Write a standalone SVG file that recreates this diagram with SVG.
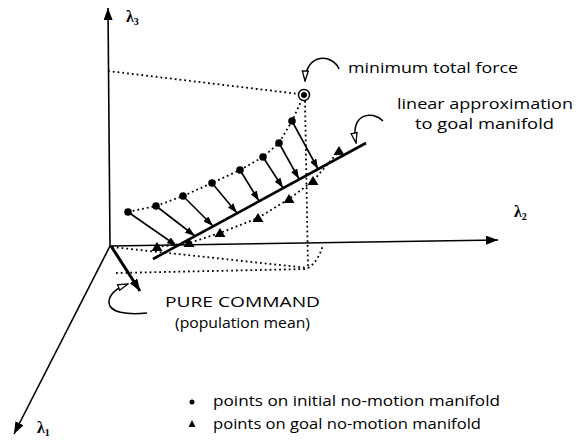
<svg xmlns="http://www.w3.org/2000/svg" width="584" height="441" viewBox="0 0 584 441">
<style>
.ax{stroke:#000;stroke-width:1.6;fill:none}
.dot{stroke:#000;stroke-width:1.8;stroke-dasharray:1.8 3;fill:none}
.arr{stroke:#000;stroke-width:1.6;fill:none}
.ptr{stroke:#000;stroke-width:1.5;fill:none}
.lbl{font-family:"Open Sans","Noto Sans",sans-serif;font-size:15px;fill:#000}
.lam{font-family:"Liberation Serif",serif;font-size:16px;font-weight:bold;fill:#000}
.sub{font-size:10px}
</style>
<defs>
<marker id="ah" viewBox="0 0 10 7" refX="10" refY="3.5" markerWidth="10" markerHeight="7" markerUnits="userSpaceOnUse" orient="auto"><path d="M0,0 L10,3.5 L0,7 z" fill="#000"/></marker>
<marker id="ahb" viewBox="0 0 12 9" refX="12" refY="4.5" markerWidth="12" markerHeight="9" markerUnits="userSpaceOnUse" orient="auto"><path d="M0,0 L12,4.5 L0,9 z" fill="#000"/></marker>
<marker id="aho" viewBox="0 0 12 8" refX="11" refY="4" markerWidth="12" markerHeight="8" markerUnits="userSpaceOnUse" orient="auto"><path d="M1,1 L11,4 L1,7 z" fill="#fff" stroke="#000" stroke-width="1.3"/></marker>
<path id="tri" d="M0,-5 L5.5,4 L-5.5,4 z" fill="#000"/>
</defs>

<g id="axes">
<line class="ax" x1="110" y1="246" x2="108" y2="8" marker-end="url(#ahb)"/>
<line class="ax" x1="110" y1="246" x2="498" y2="240" marker-end="url(#ahb)"/>
<line class="ax" x1="110" y1="246" x2="14" y2="434" marker-end="url(#ahb)"/>
<text class="lam" x="126" y="22">λ<tspan class="sub" dy="3">3</tspan></text>
<text class="lam" x="514" y="217">λ<tspan class="sub" dy="3">2</tspan></text>
<text class="lam" x="37" y="433">λ<tspan class="sub" dy="3">1</tspan></text>
</g>

<g id="projection">
<line class="dot" x1="108" y1="71" x2="299" y2="94"/>
<line class="dot" x1="305" y1="101" x2="308" y2="268"/>
<line class="dot" x1="112" y1="247" x2="308" y2="268"/>
<line class="dot" x1="116" y1="273" x2="308" y2="269"/>
<path class="dot" d="M308,268 Q318,262 323,245"/>
</g>

<g id="initial-manifold">
<polyline class="dot" points="128,212 156,206 183,196 212,183 240,170 263,157 279,143 292,121 304,95"/>
<circle cx="128" cy="212" r="3.8"/>
<circle cx="156" cy="206" r="3.8"/>
<circle cx="183" cy="196" r="3.8"/>
<circle cx="212" cy="183" r="3.8"/>
<circle cx="240" cy="170" r="3.8"/>
<circle cx="263" cy="157" r="3.8"/>
<circle cx="279" cy="143" r="3.8"/>
<circle cx="292" cy="121" r="3.8"/>
</g>

<g id="minimum">
<circle cx="304" cy="95" r="5.5" fill="#fff" stroke="#000" stroke-width="1.4"/>
<circle cx="304" cy="95" r="3" fill="#000"/>
</g>

<g id="goal-manifold">
<polyline class="dot" points="157,247 189,243 220,233 258,218 289,199 313,181 339,151"/>
<use href="#tri" x="157" y="247"/>
<use href="#tri" x="189" y="243"/>
<use href="#tri" x="220" y="233"/>
<use href="#tri" x="258" y="218"/>
<use href="#tri" x="289" y="199"/>
<use href="#tri" x="313" y="181"/>
<use href="#tri" x="339" y="151"/>
</g>

<g id="linear-approx">
<line x1="153" y1="259" x2="366" y2="143" stroke="#000" stroke-width="2.6"/>
</g>

<g id="connectors">
<line class="arr" x1="128" y1="212" x2="177" y2="246" marker-end="url(#ah)"/>
<line class="arr" x1="156" y1="206" x2="195" y2="236" marker-end="url(#ah)"/>
<line class="arr" x1="183" y1="196" x2="213" y2="226" marker-end="url(#ah)"/>
<line class="arr" x1="212" y1="183" x2="237" y2="213" marker-end="url(#ah)"/>
<line class="arr" x1="240" y1="170" x2="259" y2="201" marker-end="url(#ah)"/>
<line class="arr" x1="263" y1="157" x2="283" y2="188" marker-end="url(#ah)"/>
<line class="arr" x1="279" y1="143" x2="299" y2="179" marker-end="url(#ah)"/>
<line class="arr" x1="292" y1="121" x2="318" y2="169" marker-end="url(#ah)"/>
<line x1="111" y1="246" x2="140" y2="291" stroke="#000" stroke-width="3" marker-end="url(#ahb)"/>
<path class="ptr" d="M339,69 C333,54 306,52 305,81" marker-end="url(#aho)"/>
<path class="ptr" d="M383,121 C372,110 350,113 356,143" marker-end="url(#aho)"/>
<path class="ptr" d="M147,313 C128,315 108,313 109,301 C110,293 117,288 128,284" marker-end="url(#aho)"/>
</g>

<g id="labels">
<text class="lbl" x="348" y="73" textLength="170" lengthAdjust="spacingAndGlyphs">minimum total force</text>
<text class="lbl" x="397" y="109" textLength="176" lengthAdjust="spacingAndGlyphs">linear approximation</text>
<text class="lbl" x="415" y="129" textLength="139" lengthAdjust="spacingAndGlyphs">to goal manifold</text>
<text class="lbl" x="165" y="307" font-size="17" textLength="155" lengthAdjust="spacingAndGlyphs">PURE COMMAND</text>
<text class="lbl" x="175" y="328" textLength="135" lengthAdjust="spacingAndGlyphs">(population mean)</text>
</g>

<g id="legend">
<circle cx="192" cy="402" r="2.5"/>
<text class="lbl" x="213" y="406" textLength="287" lengthAdjust="spacingAndGlyphs">points on initial no-motion manifold</text>
<path d="M192,420 L195.5,427 L188.5,427 z" fill="#000"/>
<text class="lbl" x="213" y="429" textLength="268" lengthAdjust="spacingAndGlyphs">points on goal no-motion manifold</text>
</g>
</svg>
